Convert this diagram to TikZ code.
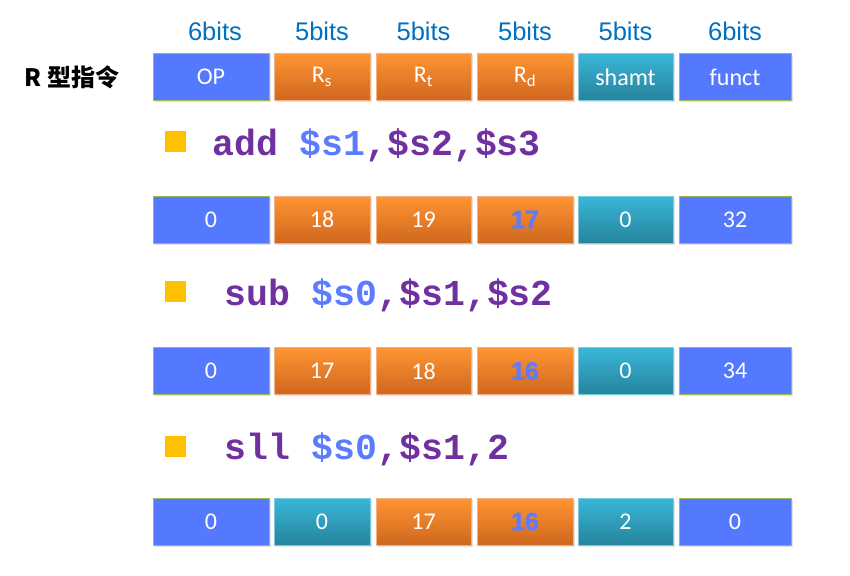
\documentclass[tikz,border=0pt]{standalone}
\usepackage{fontspec}
\setmainfont{Carlito}
\newfontfamily\cjk{Noto Sans CJK SC}
\newfontfamily\codefont{Liberation Mono}
\newfontfamily\bitsfont{Liberation Sans}
\newfontfamily\heavyfont[FakeBold=1.5]{Liberation Sans}
\usetikzlibrary{shadows}
\definecolor{opblue}{HTML}{5479FF}
\definecolor{opborder}{HTML}{9BBB59}
\definecolor{orTop}{HTML}{FF9533}
\definecolor{orBot}{HTML}{CF671E}
\definecolor{orBorder}{HTML}{F4B183}
\definecolor{tlTop}{HTML}{3AB6D8}
\definecolor{tlBot}{HTML}{25849C}
\definecolor{tlBorder}{HTML}{7CCCE0}
\definecolor{bitsblue}{HTML}{0070C0}
\definecolor{insPurple}{HTML}{7030A0}
\definecolor{regBlue}{HTML}{5B7CFF}
\definecolor{bulletYellow}{HTML}{FFC000}
\begin{document}
\begin{tikzpicture}[x=1pt,y=-1pt,
  fld/.style={rectangle, inner sep=0pt, text=white, font=\fontsize{24}{24}\selectfont,
    drop shadow={opacity=0.22, shadow xshift=1.5pt, shadow yshift=-1.5pt}},
  bluebox/.style={fld, fill=opblue, draw=opborder, line width=0.8pt},
  orbox/.style={fld, top color=orTop, bottom color=orBot, draw=orBorder, line width=0.6pt},
  tlbox/.style={fld, top color=tlTop, bottom color=tlBot, draw=tlBorder, line width=0.6pt},
  c1/.style={minimum width=116pt}, c2/.style={minimum width=96pt},
  c3/.style={minimum width=95pt}, c4/.style={minimum width=96pt},
  c5/.style={minimum width=95pt}, c6/.style={minimum width=112pt},
  hrow/.style={minimum height=47pt},
  bits/.style={text=bitsblue, inner sep=0pt, anchor=base, font=\bitsfont\fontsize{25.5}{25.5}\selectfont},
  ins/.style={anchor=base west, inner sep=0pt, text=insPurple, font=\codefont\bfseries\fontsize{36.5}{36.5}\selectfont},
  bullet/.style={fill=bulletYellow, draw=none, minimum size=21pt, inner sep=0pt},
  hl/.style={text=regBlue, font=\heavyfont\bfseries\fontsize{25}{25}\selectfont}
]
\useasboundingbox (0,0) rectangle (850,575);

% bit-width labels
\node[bits] (b1) at (215,41) {6bits};
\node[bits] (b2) at (322,41) {5bits};
\node[bits] (b3) at (423.5,41) {5bits};
\node[bits] (b4) at (525,41) {5bits};
\node[bits] (b5) at (625.5,41) {5bits};
\node[bits] (b6) at (735,41) {6bits};

% header
\node[anchor=center, inner sep=0pt, font=\cjk\bfseries\fontsize{24}{24}\selectfont] (rlabel) at (72,77) {R 型指令};
\node[bluebox,c1,hrow] (h1) at (211,77) {OP};
\node[orbox,c2,hrow] (h2) at (322,77) {R\textsubscript{s}};
\node[orbox,c3,hrow] (h3) at (423.5,77) {R\textsubscript{t}};
\node[orbox,c4,hrow] (h4) at (525,77) {R\textsubscript{d}};
\node[tlbox,c5,hrow] (h5) at (625.5,77) {shamt};
\node[bluebox,c6,hrow] (h6) at (735,77) {funct};

% add
\node[bullet] (q1) at (175,141) {};
\node[ins] (i1) at (212,155) {add \textcolor{regBlue}{\$s1},\$s2,\$s3};
\node[bluebox,c1,hrow] (a1) at (211,219.5) {0};
\node[orbox,c2,hrow] (a2) at (322,219.5) {18};
\node[orbox,c3,hrow] (a3) at (423.5,219.5) {19};
\node[orbox,c4,hrow,hl] (a4) at (525,219.5) {17};
\node[tlbox,c5,hrow] (a5) at (625.5,219.5) {0};
\node[bluebox,c6,hrow] (a6) at (735,219.5) {32};

% sub
\node[bullet] (q2) at (175,291) {};
\node[ins] (i2) at (224,305) {sub \textcolor{regBlue}{\$s0},\$s1,\$s2};
\node[bluebox,c1,hrow] (s1) at (211,371) {0};
\node[orbox,c2,hrow] (s2) at (322,371) {17};
\node[orbox,c3,hrow] (s3) at (423.5,371) {18};
\node[orbox,c4,hrow,hl] (s4) at (525,371) {16};
\node[tlbox,c5,hrow] (s5) at (625.5,371) {0};
\node[bluebox,c6,hrow] (s6) at (735,371) {34};

% sll
\node[bullet] (q3) at (175,446) {};
\node[ins] (i3) at (224,459) {sll \textcolor{regBlue}{\$s0},\$s1,2};
\node[bluebox,c1,hrow] (l1) at (211,521.5) {0};
\node[tlbox,c2,hrow] (l2) at (322,521.5) {0};
\node[orbox,c3,hrow] (l3) at (423.5,521.5) {17};
\node[orbox,c4,hrow,hl] (l4) at (525,521.5) {16};
\node[tlbox,c5,hrow] (l5) at (625.5,521.5) {2};
\node[bluebox,c6,hrow] (l6) at (735,521.5) {0};
\end{tikzpicture}
\end{document}
